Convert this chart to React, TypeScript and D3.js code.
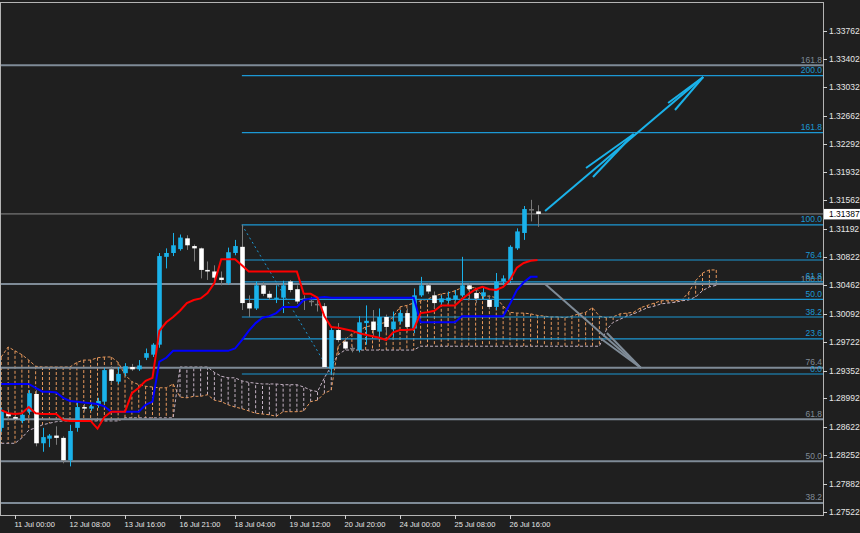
import * as d3 from "d3";

// H4 candles, bar index 0 = first visible bar
const opens = [
  1.2861, 1.288, 1.2875, 1.287, 1.2882, 1.2905, 1.2841, 1.2847, 1.2851, 1.2848,
  1.2819, 1.2861, 1.2888, 1.2886, 1.2891, 1.2895, 1.2937, 1.2921, 1.2932, 1.294,
  1.2937, 1.2952, 1.2956, 1.2969, 1.3083, 1.3088, 1.3093, 1.3107, 1.3097, 1.3094,
  1.3066, 1.3064, 1.3056, 1.3049, 1.3088, 1.3096, 1.3023, 1.3016, 1.3046, 1.3035,
  1.3029, 1.303, 1.3051, 1.3041, 1.3028, 1.3025, 1.3021, 1.3019, 1.2938, 1.2988,
  1.2973, 1.2964, 1.2962, 1.2997, 1.2999, 1.2986, 1.3005, 1.2989, 1.2999, 1.301,
  1.299, 1.3033, 1.3046, 1.3033, 1.3024, 1.3026, 1.3028, 1.3033, 1.3046, 1.3036,
  1.3032, 1.3027, 1.3018, 1.3051, 1.3053, 1.3094, 1.3114, 1.3144, 1.3142,
];
const highs = [
  1.2887, 1.2885, 1.2879, 1.2883, 1.291, 1.291, 1.2861, 1.2853, 1.2863, 1.285,
  1.2865, 1.2895, 1.2892, 1.2893, 1.29, 1.2939, 1.2941, 1.294, 1.2945, 1.2944,
  1.2949, 1.2964, 1.2971, 1.3088, 1.3094, 1.3114, 1.3112, 1.3111, 1.3099, 1.3095,
  1.3077, 1.3072, 1.3064, 1.3095, 1.3105, 1.31246, 1.3033, 1.3051, 1.305, 1.3039,
  1.3046, 1.3052, 1.3053, 1.3046, 1.3033, 1.3031, 1.3027, 1.3023, 1.2993, 1.2997,
  1.2978, 1.2968, 1.3006, 1.302, 1.3014, 1.3016, 1.3008, 1.3012, 1.3014, 1.3016,
  1.3042, 1.3057, 1.3049, 1.3038, 1.3033, 1.3038, 1.304, 1.3083, 1.3049, 1.304,
  1.3043, 1.3033, 1.3062, 1.3059, 1.3098, 1.312, 1.3149, 1.3157, 1.315,
];
const lows = [
  1.2856, 1.2871, 1.287, 1.2867, 1.2878, 1.2837, 1.283, 1.2836, 1.2839, 1.2815,
  1.2811, 1.2856, 1.2882, 1.2883, 1.2887, 1.2892, 1.2919, 1.2918, 1.2928, 1.2935,
  1.2935, 1.2949, 1.2953, 1.2965, 1.3068, 1.3084, 1.3091, 1.3092, 1.3077, 1.3055,
  1.3053, 1.305, 1.3046, 1.3047, 1.3085, 1.3014, 1.3005, 1.3014, 1.3032, 1.3027,
  1.3023, 1.301, 1.3037, 1.3022, 1.3014, 1.3019, 1.3012, 1.2939, 1.29309, 1.2972,
  1.2962, 1.2959, 1.2959, 1.2969, 1.2979, 1.2979, 1.2984, 1.2979, 1.2996, 1.2986,
  1.2984, 1.3031, 1.3035, 1.3016, 1.302, 1.3023, 1.3026, 1.3031, 1.3027, 1.3023,
  1.3028, 1.3015, 1.3014, 1.3046, 1.3049, 1.3092, 1.3105, 1.3129, 1.3122,
];
const closes = [
  1.2882, 1.2876, 1.2873, 1.2878, 1.2906, 1.2841, 1.2849, 1.2851, 1.2848, 1.2819,
  1.2857, 1.2888, 1.2886, 1.2889, 1.2896, 1.2936, 1.2922, 1.2931, 1.2941, 1.2937,
  1.2942, 1.2958, 1.2969, 1.3084, 1.3088, 1.3098, 1.3108, 1.3098, 1.3094, 1.3066,
  1.3064, 1.3056, 1.3053, 1.3089, 1.3097, 1.3023, 1.3016, 1.3046, 1.3035, 1.303,
  1.303, 1.3046, 1.304, 1.3025, 1.3028, 1.3025, 1.3021, 1.294, 1.2988, 1.2975,
  1.2964, 1.2964, 1.2998, 1.3, 1.2988, 1.3005, 1.2992, 1.2999, 1.301, 1.2992,
  1.3033, 1.3046, 1.3038, 1.3023, 1.3029, 1.303, 1.3033, 1.3046, 1.3041, 1.3029,
  1.3037, 1.3018, 1.3051, 1.3055, 1.3096, 1.3116, 1.3145, 1.3144, 1.31387,
];

// Ichimoku lines
const tenkan = [
  1.2884, 1.288, 1.2879, 1.288, 1.2888, 1.288, 1.2879, 1.2879, 1.2879, 1.2871,
  1.287, 1.287, 1.287, 1.287, 1.286, 1.2875, 1.2882, 1.2882, 1.2882, 1.2906,
  1.2913, 1.2922, 1.2926, 1.2987, 1.2998, 1.3005, 1.3013, 1.3023, 1.3027, 1.3029,
  1.3036, 1.3049, 1.308, 1.308, 1.308, 1.3072, 1.3064, 1.3064, 1.3064, 1.3064,
  1.3064, 1.3064, 1.3064, 1.3064, 1.3035, 1.3035, 1.303, 1.3006, 1.2992, 1.2991,
  1.2989, 1.2987, 1.2984, 1.2982, 1.298, 1.2978, 1.2975, 1.2985, 1.2988, 1.2988,
  1.2989, 1.301, 1.3011, 1.3013, 1.302, 1.302, 1.302, 1.3028, 1.3035, 1.3041,
  1.3044, 1.3041, 1.304, 1.3044, 1.3053, 1.3069, 1.3075, 1.3078, 1.3079,
];
const kijun = [
  1.2918, 1.2918, 1.2918, 1.2918, 1.2918, 1.2913, 1.2908, 1.2908, 1.2907, 1.29,
  1.2896, 1.2895, 1.2894, 1.2893, 1.2892, 1.2889, 1.2882, 1.2882, 1.2882, 1.2882,
  1.2882, 1.2891, 1.2895, 1.2947, 1.2952, 1.2961, 1.2961, 1.2961, 1.2961, 1.2961,
  1.2961, 1.2961, 1.2961, 1.2961, 1.2964, 1.2975, 1.2987, 1.2997, 1.3004, 1.3006,
  1.301, 1.3018, 1.3018, 1.3018, 1.3027, 1.3029, 1.303, 1.3031, 1.303, 1.303,
  1.303, 1.303, 1.303, 1.303, 1.303, 1.303, 1.303, 1.303, 1.303, 1.303,
  1.303, 1.2998, 1.2998, 1.2998, 1.2998, 1.2998, 1.2998, 1.3006, 1.3006, 1.3006,
  1.3006, 1.3006, 1.3006, 1.3006, 1.3022, 1.304, 1.305, 1.3057, 1.3057,
];
// cloud, runs 26 bars past the last candle
const spanA = [
  1.2953, 1.2966, 1.2961, 1.2956, 1.2949, 1.2941, 1.294, 1.294, 1.294, 1.294,
  1.294, 1.2946, 1.2949, 1.2949, 1.2952, 1.2953, 1.2953, 1.2946, 1.293, 1.2921,
  1.2917, 1.2915, 1.2914, 1.2913, 1.2913, 1.2918, 1.2901, 1.29, 1.2902, 1.2902,
  1.2904, 1.2897, 1.2895, 1.2891, 1.2888, 1.2886, 1.2883, 1.288, 1.2879, 1.2878,
  1.2876, 1.2882, 1.2882, 1.2882, 1.2883, 1.2895, 1.2897, 1.2906, 1.291, 1.2967,
  1.2975, 1.2983, 1.2987, 1.2992, 1.2994, 1.2996, 1.2998, 1.3005, 1.3018, 1.302,
  1.3023, 1.3026, 1.3028, 1.3032, 1.3035, 1.3036, 1.3039, 1.3043, 1.3043, 1.3043,
  1.3032, 1.3032, 1.303, 1.3019, 1.3011, 1.301, 1.301, 1.3009, 1.3007, 1.3006,
  1.3005, 1.3005, 1.3004, 1.3006, 1.3009, 1.3011, 1.3017, 1.3006, 1.3004, 1.3005,
  1.3009, 1.301, 1.3011, 1.3017, 1.302, 1.3023, 1.3026, 1.3026, 1.3026, 1.3027,
  1.3037, 1.3052, 1.3062, 1.3066, 1.3066,
];
const spanB = [
  1.2841, 1.2841, 1.2841, 1.2848, 1.2858, 1.2861, 1.2865, 1.2867, 1.2869, 1.287,
  1.287, 1.287, 1.287, 1.287, 1.287, 1.287, 1.287, 1.287, 1.2874, 1.2874,
  1.2874, 1.2874, 1.2874, 1.2874, 1.2874, 1.2874, 1.294, 1.294, 1.294, 1.294,
  1.294, 1.2933, 1.2928, 1.2926, 1.2926, 1.2922, 1.292, 1.2919, 1.2918, 1.2918,
  1.2918, 1.2917, 1.2917, 1.2917, 1.2914, 1.291, 1.2908, 1.2926, 1.2941, 1.2956,
  1.2962, 1.2962, 1.2962, 1.2962, 1.2962, 1.2962, 1.2962, 1.2962, 1.2962, 1.2962,
  1.2962, 1.2967, 1.2967, 1.2967, 1.2967, 1.2967, 1.2967, 1.2967, 1.2967, 1.2967,
  1.2967, 1.2967, 1.2967, 1.2967, 1.2967, 1.2967, 1.2967, 1.2967, 1.2967, 1.2967,
  1.2967, 1.2967, 1.2967, 1.2967, 1.2967, 1.2967, 1.2967, 1.2967, 1.2988, 1.2998,
  1.3002, 1.3006, 1.3009, 1.3013, 1.3017, 1.3019, 1.3022, 1.3023, 1.3024, 1.3026,
  1.3027, 1.3031, 1.3039, 1.3044, 1.3046,
];

const priceTicks = [
  1.33762, 1.33402, 1.33032, 1.32662, 1.32292, 1.31932, 1.31562, 1.31192, 1.30822,
  1.30462, 1.30092, 1.29722, 1.29352, 1.28992, 1.28622, 1.28252, 1.27882, 1.27522,
];
const timeLabels = [
  "11 Jul 00:00", "12 Jul 08:00", "13 Jul 16:00", "16 Jul 21:00", "18 Jul 04:00",
  "19 Jul 12:00", "20 Jul 20:00", "24 Jul 00:00", "25 Jul 08:00", "26 Jul 16:00",
];
const timeLabelBars = [2, 10, 18, 26, 34, 42, 50, 58, 66, 74];

// fibo retracements: [bar, price] of the 100 point and the 0 point
const blueFibAnchors = [35, 1.31246, 48, 1.29309];
const grayFibAnchors = [-60, 1.30476, -20, 1.2588];
const fibLevels = [0, 23.6, 38.2, 50, 61.8, 76.4, 100, 161.8, 200];

// hand drawn arrows, segments as [bar0, price0, bar1, price1]
const upArrow = [
  [79.1, 1.31425, 102.1, 1.33164],
  [85.06, 1.31983, 92.0, 1.32425],
  [86.07, 1.31866, 92.0, 1.32425],
  [97.0, 1.32827, 102.1, 1.33164],
  [98.0, 1.32736, 102.1, 1.33164],
];
const downArrow = [
  [79.1, 1.30477, 93.05, 1.29387],
  [87.1, 1.29776, 93.05, 1.29387],
  [88.1, 1.29841, 93.05, 1.29387],
];
const lastPrice = 1.31387;

const W = 860;
const H = 533;
const RIGHT = 823;
const TOP = 2;
const BOTTOM = 515;

const BG = "#1f1f1f";
const BULL = "#1ab2ea";
const BEAR = "#ffffff";
const WICK_GRAY = "#7a7a7a";
const FIB_BLUE = "#1c98d4";
const FIB_GRAY = "#7f8b97";
const SANDY = "#e8995c";
const THISTLE = "#c4b2c4";
const FONT = "Liberation Sans, Arial, sans-serif";

const x = d3.scaleLinear().domain([0, 104]).range([1.25, 716.25]);
const y = d3.scaleLinear().domain([1.27479, 1.34125]).range([BOTTOM, 3]);

export default function App() {
  const line = d3
    .line<number>()
    .x((_, i) => x(i))
    .y((d) => y(d));

  // only the levels that fall inside the plot get drawn
  const fib = (anchors: number[], startX: number, color: string, width: number) => {
    const hi = anchors[1];
    const lo = anchors[3];
    return fibLevels
      .map((lvl) => ({ lvl, py: y(lo + ((hi - lo) * lvl) / 100) }))
      .filter((d) => d.py > TOP + 8 && d.py < BOTTOM)
      .map(({ lvl, py }) => (
        <g key={lvl}>
          <line x1={startX} x2={RIGHT} y1={py} y2={py} stroke={color} strokeWidth={width} />
          <text x={RIGHT - 1} y={py - 2.5} fill={color} fontSize={8.5} textAnchor="end" fontFamily={FONT}>
            {lvl.toFixed(1)}
          </text>
        </g>
      ));
  };

  return (
    <svg
      width={W}
      height={H}
      style={{ position: "absolute", left: 0, top: 0, display: "block" }}
    >
      <defs>
        <clipPath id="plot">
          <rect x={0} y={TOP} width={RIGHT} height={BOTTOM - TOP} />
        </clipPath>
      </defs>
      <rect width={W} height={H} fill={BG} />

      <g clipPath="url(#plot)">
        {/* cloud hatch */}
        {spanA.map((a, i) => (
          <line
            key={"h" + i}
            x1={x(i)}
            x2={x(i)}
            y1={y(a)}
            y2={y(spanB[i])}
            stroke={a >= spanB[i] ? SANDY : THISTLE}
            strokeWidth={1}
            strokeDasharray="3,2"
          />
        ))}
        <path d={line(spanA) || ""} fill="none" stroke={SANDY} strokeWidth={1} strokeDasharray="3,2" />
        <path d={line(spanB) || ""} fill="none" stroke={THISTLE} strokeWidth={1} strokeDasharray="3,2" />

        {/* fibo levels */}
        {fib(grayFibAnchors, 0, FIB_GRAY, 2)}
        {fib(blueFibAnchors, x(blueFibAnchors[0]), FIB_BLUE, 1.2)}
        <line
          x1={x(blueFibAnchors[0])}
          y1={y(blueFibAnchors[1])}
          x2={x(blueFibAnchors[2])}
          y2={y(blueFibAnchors[3])}
          stroke={FIB_BLUE}
          strokeWidth={1}
          strokeDasharray="2,3"
        />

        {/* bid line */}
        <line x1={0} x2={RIGHT} y1={y(lastPrice)} y2={y(lastPrice)} stroke="#8c8c8c" strokeWidth={1} />

        {/* candles */}
        {opens.map((o, i) => {
          const c = closes[i];
          const cx = Math.round(x(i)) + 0.5;
          const bull = c > o;
          const doji = c === o;
          const wick = bull ? BULL : WICK_GRAY;
          const top = y(Math.max(o, c));
          const bot = y(Math.min(o, c));
          return (
            <g key={"c" + i}>
              <line x1={cx} x2={cx} y1={y(highs[i])} y2={y(lows[i])} stroke={wick} strokeWidth={1} />
              {doji ? (
                <line x1={cx - 2.5} x2={cx + 2.5} y1={top} y2={top} stroke={WICK_GRAY} strokeWidth={1.5} />
              ) : (
                <rect
                  x={cx - 2.3}
                  y={top}
                  width={4.6}
                  height={Math.max(1.2, bot - top)}
                  fill={bull ? BULL : BEAR}
                />
              )}
            </g>
          );
        })}

        {/* tenkan / kijun */}
        <path d={line(kijun) || ""} fill="none" stroke="#0000ff" strokeWidth={2} />
        <path d={line(tenkan) || ""} fill="none" stroke="#ff0000" strokeWidth={2} />

        {/* arrows */}
        {upArrow.map((s, i) => (
          <line key={"u" + i} x1={x(s[0])} y1={y(s[1])} x2={x(s[2])} y2={y(s[3])} stroke={BULL} strokeWidth={2} />
        ))}
        {downArrow.map((s, i) => (
          <line key={"d" + i} x1={x(s[0])} y1={y(s[1])} x2={x(s[2])} y2={y(s[3])} stroke={FIB_GRAY} strokeWidth={2} />
        ))}
      </g>

      {/* frame */}
      <rect x={0.5} y={TOP + 0.5} width={RIGHT} height={BOTTOM - TOP} fill="none" stroke="#b4b4b4" strokeWidth={1} />

      {/* price axis */}
      {priceTicks.map((p) => (
        <g key={p}>
          <line x1={RIGHT} x2={RIGHT + 4} y1={Math.round(y(p)) + 0.5} y2={Math.round(y(p)) + 0.5} stroke="#d0d0d0" />
          <text x={829} y={y(p) + 3} fill="#e6e6e6" fontSize={8.5} fontFamily={FONT}>
            {p.toFixed(5)}
          </text>
        </g>
      ))}
      <rect x={824} y={y(lastPrice) - 5} width={36} height={10.5} fill="#ffffff" />
      <text x={829} y={y(lastPrice) + 3} fill="#000000" fontSize={8.5} fontFamily={FONT}>
        {lastPrice.toFixed(5)}
      </text>

      {/* time axis */}
      {timeLabels.map((t, i) => {
        const tx = Math.round(x(timeLabelBars[i])) + 0.5;
        return (
          <g key={t}>
            <line x1={tx} x2={tx} y1={BOTTOM} y2={BOTTOM + 4} stroke="#d0d0d0" />
            <text x={tx - 1} y={527} fill="#e6e6e6" fontSize={7.5} fontFamily={FONT}>
              {t}
            </text>
          </g>
        );
      })}
    </svg>
  );
}
